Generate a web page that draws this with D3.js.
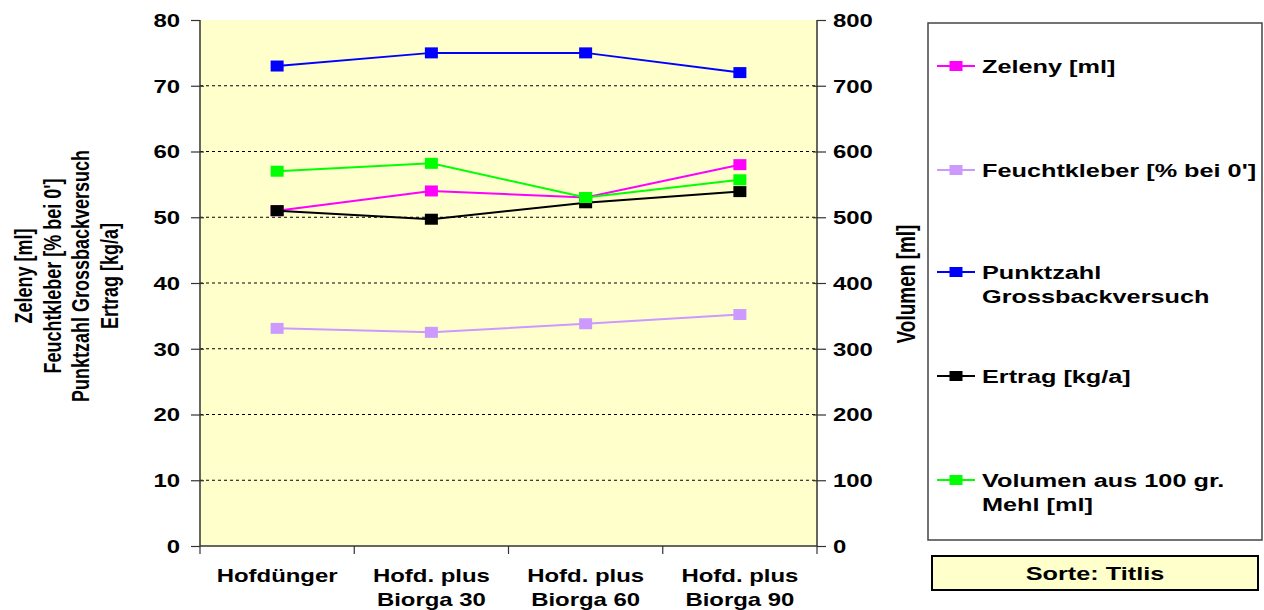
<!DOCTYPE html>
<html><head><meta charset="utf-8">
<script src="https://cdn.jsdelivr.net/npm/d3@7"></script>
<style>
body{margin:0;background:#fff;}
text{font-family:"Liberation Sans",Arial,sans-serif;font-weight:bold;fill:#000;}
</style></head>
<body><svg id="c" width="1264" height="610"></svg>
<script>
const categories = [["Hofdünger"],["Hofd. plus","Biorga 30"],["Hofd. plus","Biorga 60"],["Hofd. plus","Biorga 90"]];
const zeleny = [51, 54, 53, 58];
const feuchtkleber = [33.1, 32.5, 33.8, 35.2];
const punktzahl = [73, 75, 75, 72];
const ertrag = [51, 49.7, 52.2, 53.9];
const volumen = [570, 582, 530, 557];
const leftTicks = [0,10,20,30,40,50,60,70,80];
const rightTicks = [0,100,200,300,400,500,600,700,800];
const seriesNames = [["Zeleny [ml]"],["Feuchtkleber [% bei 0']"],["Punktzahl","Grossbackversuch"],["Ertrag [kg/a]"],["Volumen aus 100 gr.","Mehl [ml]"]];
const seriesColors = ["#FF00FF","#CC99FF","#0000FF","#000000","#00FF00"];
const leftTitle = ["Zeleny [ml]","Feuchtkleber [% bei 0']","Punktzahl Grossbackversuch","Ertrag [kg/a]"];
const rightTitle = "Volumen [ml]";
const sorte = "Sorte: Titlis";

const SX = 1.33;
const svg = d3.select("#c");
const L=200,R=817,T=20,B=546;
const x = d3.scaleBand().domain(d3.range(categories.length)).range([L,R]);
const yL = d3.scaleLinear().domain([0,80]).range([B,T]);
const yR = d3.scaleLinear().domain([0,800]).range([B,T]);

svg.append("rect").attr("x",L).attr("y",T).attr("width",R-L).attr("height",B-T).attr("fill","#FFFFCC");
// grid
svg.append("g").selectAll("line").data(leftTicks.filter(d=>d>0&&d<80)).join("line")
  .attr("x1",L).attr("x2",R).attr("y1",d=>yL(d)).attr("y2",d=>yL(d))
  .attr("stroke","#000").attr("stroke-width",1).attr("stroke-dasharray","3,3");

// left axis
const gL = svg.append("g").attr("transform",`translate(${L},0)`)
  .call(d3.axisLeft(yL).tickValues(leftTicks).tickSize(9).tickPadding(0));
gL.select(".domain").attr("stroke","#333").attr("stroke-width",1.5).attr("d",`M0,${T}V${B}`);
gL.selectAll(".tick line").attr("stroke","#333").attr("stroke-width",1.2).attr("x2",-9).attr("x1",d=>d>0&&d<80?4:0);
gL.selectAll(".tick text").attr("x",-20/SX).attr("dy","0.35em").attr("transform",`scale(${SX},1)`)
  .style("font-size","18px").style("font-family","Liberation Sans, Arial").style("font-weight","bold");

// right axis
const gR = svg.append("g").attr("transform",`translate(${R},0)`)
  .call(d3.axisRight(yR).tickValues(rightTicks).tickSize(9).tickPadding(0));
gR.select(".domain").attr("stroke","#333").attr("stroke-width",1.5).attr("d",`M0,${T}V${B}`);
gR.selectAll(".tick line").attr("stroke","#333").attr("stroke-width",1.2).attr("x2",9).attr("x1",d=>d>0&&d<800?-4:0);
gR.selectAll(".tick text").attr("x",16/SX).attr("dy","0.35em").attr("transform",`scale(${SX},1)`)
  .style("font-size","18px").style("font-family","Liberation Sans, Arial").style("font-weight","bold");

// bottom axis
svg.append("line").attr("x1",L).attr("x2",R).attr("y1",B).attr("y2",B).attr("stroke","#333").attr("stroke-width",1.5);
const bounds = d3.range(categories.length+1).map(i=> i<categories.length ? x(i) : R);
svg.append("g").selectAll("line").data(bounds).join("line")
  .attr("x1",d=>d).attr("x2",d=>d).attr("y1",B).attr("y2",B+8).attr("stroke","#333").attr("stroke-width",1.2);
const xl = svg.append("g").selectAll("text").data(categories).join("text")
  .attr("transform",(d,i)=>`translate(${x(i)+x.bandwidth()/2},${582}) scale(${SX},1)`)
  .attr("text-anchor","middle").style("font-size","18px");
xl.selectAll("tspan").data(d=>d).join("tspan").attr("x",0).attr("dy",(d,i)=>i?24:0).text(d=>d);

// series
const series = [
  {vals:zeleny, y:yL},
  {vals:feuchtkleber, y:yL},
  {vals:punktzahl, y:yL},
  {vals:ertrag, y:yL},
  {vals:volumen, y:yR}
];
const cx = i => x(i)+x.bandwidth()/2;
series.forEach((s,k)=>{
  const g = svg.append("g");
  g.append("path").datum(s.vals)
    .attr("d", d3.line().x((d,i)=>cx(i)).y(d=>s.y(d)))
    .attr("fill","none").attr("stroke",seriesColors[k]).attr("stroke-width",2);
  g.selectAll("rect").data(s.vals).join("rect")
    .attr("x",(d,i)=>cx(i)-6.5).attr("y",d=>s.y(d)-5.5).attr("width",13).attr("height",11)
    .attr("fill",seriesColors[k]);
});

// left title
const lt = svg.append("text").attr("transform",`translate(75,276) scale(${SX},1) rotate(-90)`)
  .attr("text-anchor","middle").style("font-size","18px");
lt.selectAll("tspan").data(leftTitle).join("tspan").attr("x",0)
  .attr("y",(d,i)=>(-43 + i*28.7)/SX).text(d=>d);
// right title
svg.append("text").attr("transform",`translate(915,284) scale(${SX},1) rotate(-90)`)
  .attr("text-anchor","middle").style("font-size","19px").text(rightTitle);

// legend
svg.append("rect").attr("x",928).attr("y",23).attr("width",334).attr("height",517)
  .attr("fill","#fff").attr("stroke","#444").attr("stroke-width",1.5);
const legY = [66,170,272,376,480];
seriesNames.forEach((nm,k)=>{
  const g = svg.append("g");
  g.append("line").attr("x1",937).attr("x2",975).attr("y1",legY[k]).attr("y2",legY[k]).attr("stroke",seriesColors[k]).attr("stroke-width",2);
  g.append("rect").attr("x",949.5).attr("y",legY[k]-5).attr("width",13).attr("height",10).attr("fill",seriesColors[k]);
  const t = g.append("text").attr("transform",`translate(982,${legY[k]+7}) scale(${SX},1)`).style("font-size","19px");
  t.selectAll("tspan").data(nm).join("tspan").attr("x",0).attr("dy",(d,i)=>i?24:0).text(d=>d);
});
// Sorte box
svg.append("rect").attr("x",932).attr("y",556).attr("width",326).attr("height",34)
  .attr("fill","#FFFFCC").attr("stroke","#000").attr("stroke-width",2);
svg.append("text").attr("transform",`translate(1095,580) scale(${SX},1)`).attr("text-anchor","middle")
  .style("font-size","19px").text(sorte);
</script></body></html>
